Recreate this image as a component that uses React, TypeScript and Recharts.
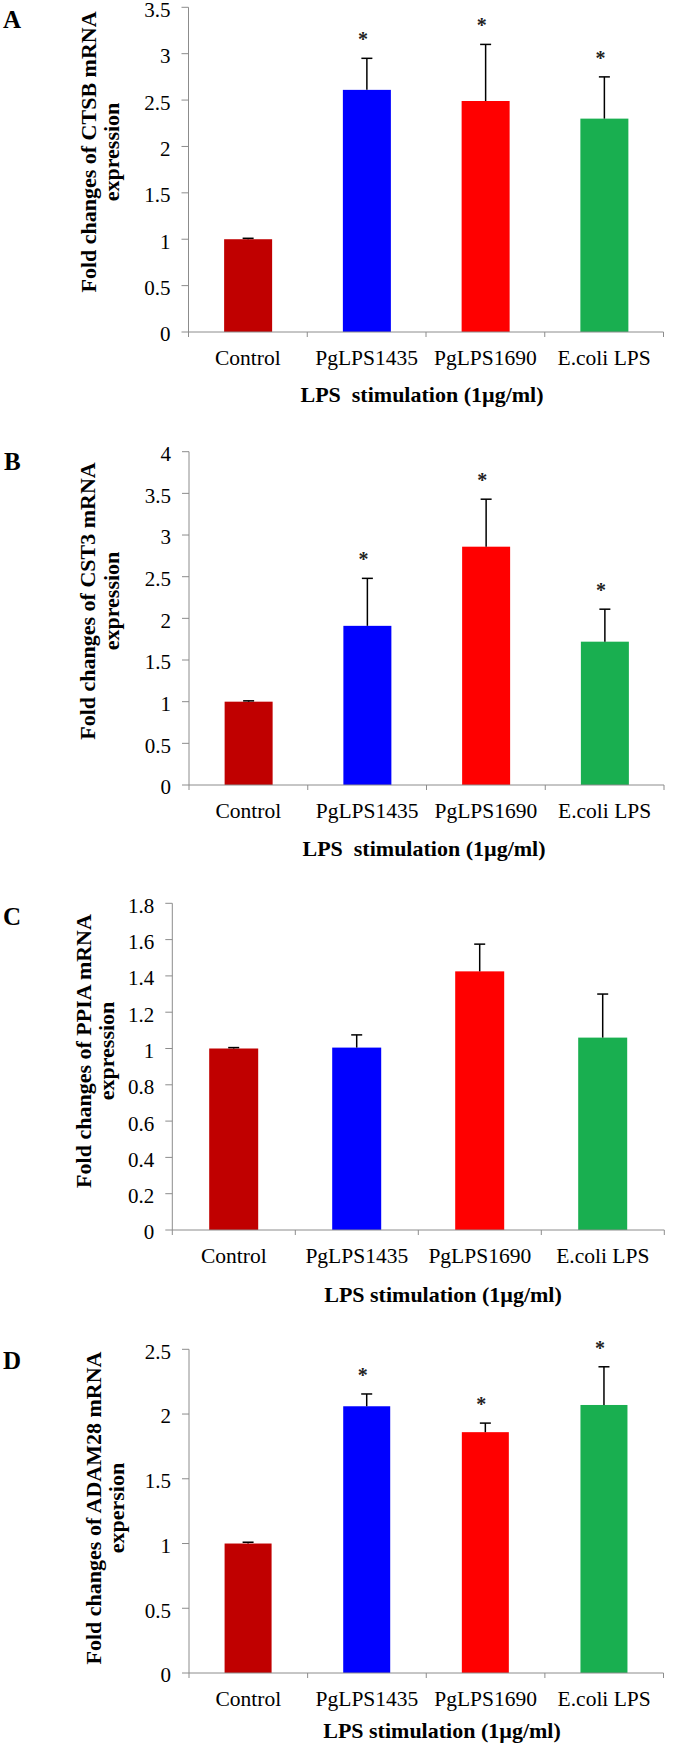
import { BarChart, Bar, XAxis, YAxis, Cell } from 'recharts'

const categories = ['Control', 'PgLPS1435', 'PgLPS1690', 'E.coli LPS']
const barColors = ['#C00000', '#0000FF', '#FF0000', '#19AF50']

// A: CTSB
const ctsbMean = [1.0, 2.61, 2.49, 2.3]
const ctsbErr = [0.01, 0.34, 0.61, 0.45]
const ctsbSig = [false, true, true, true]
const ctsbTicks = [0, 0.5, 1, 1.5, 2, 2.5, 3, 3.5]

// B: CST3
const cst3Mean = [1.0, 1.91, 2.86, 1.72]
const cst3Err = [0.01, 0.57, 0.57, 0.39]
const cst3Sig = [false, true, true, true]
const cst3Ticks = [0, 0.5, 1, 1.5, 2, 2.5, 3, 3.5, 4]

// C: PPIA
const ppiaMean = [1.0, 1.005, 1.425, 1.06]
const ppiaErr = [0.005, 0.07, 0.15, 0.24]
const ppiaSig = [false, false, false, false]
const ppiaTicks = [0, 0.2, 0.4, 0.6, 0.8, 1, 1.2, 1.4, 1.6, 1.8]

// D: ADAM28
const adamMean = [1.0, 2.06, 1.86, 2.07]
const adamErr = [0.01, 0.095, 0.07, 0.295]
const adamSig = [false, true, true, true]
const adamTicks = [0, 0.5, 1, 1.5, 2, 2.5]

const SERIF = '"Liberation Serif", "Times New Roman", serif'
const AXIS = '#8c8c8c'

const panels = [
  { mean: ctsbMean, err: ctsbErr, sig: ctsbSig, ticks: ctsbTicks, top: 0, height: 440, plotTop: 7.3, plotBottom: 332, plotLeft: 188.5, plotRight: 663.5 },
  { mean: cst3Mean, err: cst3Err, sig: cst3Sig, ticks: cst3Ticks, top: 420, height: 440, plotTop: 451.7, plotBottom: 785, plotLeft: 189, plotRight: 664 },
  { mean: ppiaMean, err: ppiaErr, sig: ppiaSig, ticks: ppiaTicks, top: 860, height: 440, plotTop: 903.3, plotBottom: 1230, plotLeft: 172.3, plotRight: 664.3 },
  { mean: adamMean, err: adamErr, sig: adamSig, ticks: adamTicks, top: 1300, height: 446, plotTop: 1349.3, plotBottom: 1673, plotLeft: 189, plotRight: 663.5 },
]

const letters = [
  { text: 'A', x: 3, y: 28 },
  { text: 'B', x: 4, y: 470 },
  { text: 'C', x: 3, y: 925 },
  { text: 'D', x: 3, y: 1369 },
]

const yLabels = [
  { l1: 'Fold changes of CTSB mRNA', l2: 'expression', cy: 152, b1: 96, b2: 119 },
  { l1: 'Fold changes of CST3 mRNA', l2: 'expression', cy: 601, b1: 95, b2: 118.5 },
  { l1: 'Fold changes of PPIA mRNA', l2: 'expression', cy: 1051, b1: 91, b2: 114 },
  { l1: 'Fold changes of ADAM28 mRNA', l2: 'expersion', cy: 1508, b1: 101, b2: 124 },
]

const xTitles = [
  { text: 'LPS\u00A0 stimulation (1µg/ml)', x: 422, y: 401.5 },
  { text: 'LPS\u00A0 stimulation (1µg/ml)', x: 424, y: 856 },
  { text: 'LPS stimulation (1µg/ml)', x: 443, y: 1302 },
  { text: 'LPS stimulation (1µg/ml)', x: 442, y: 1738 },
]

function BarWithErr(props: any) {
  const { x, y, width, height, fill, payload } = props
  const perUnit = height / payload.mean
  const errTop = y - payload.err * perUnit
  const cx = x + width / 2
  return (
    <g>
      <rect x={x} y={y} width={width} height={height} fill={fill} />
      <line x1={cx} x2={cx} y1={y} y2={errTop} stroke="#000" strokeWidth={1.5} />
      <line x1={cx - 5.5} x2={cx + 5.5} y1={errTop} y2={errTop} stroke="#000" strokeWidth={1.5} />
      {payload.sig && (
        <text x={cx - 4} y={errTop - 12} textAnchor="middle" fontSize={20} fontWeight="bold" fontFamily={SERIF} fill="#222">
          *
        </text>
      )}
    </g>
  )
}

function XTick(props: any) {
  const { x, y, payload, bw } = props
  const left = x - bw / 2
  const isLast = payload.value === categories[categories.length - 1]
  return (
    <g>
      <line x1={left} x2={left} y1={y} y2={y + 5} stroke={AXIS} />
      {isLast && <line x1={x + bw / 2} x2={x + bw / 2} y1={y} y2={y + 5} stroke={AXIS} />}
      <text x={x} y={y + 33} textAnchor="middle" fontSize={21.5} fontFamily={SERIF} fill="#000">
        {payload.value}
      </text>
    </g>
  )
}

function YTick(props: any) {
  const { x, y, payload } = props
  return (
    <text x={x} y={y} dy="0.45em" textAnchor="end" fontSize={21} fontFamily={SERIF} fill="#000">
      {payload.value}
    </text>
  )
}

function Panel({ p }: { p: (typeof panels)[number] }) {
  const data = categories.map((name, i) => ({ name, mean: p.mean[i], err: p.err[i], sig: p.sig[i] }))
  const bw = (p.plotRight - p.plotLeft) / categories.length
  const xAxisHeight = 40
  return (
    <div style={{ position: 'absolute', left: 0, top: p.top }}>
      <BarChart
        width={675}
        height={p.height}
        data={data}
        barCategoryGap="30%"
        style={{ overflow: 'visible' }}
        margin={{
          top: p.plotTop - p.top,
          right: 675 - p.plotRight,
          bottom: p.top + p.height - p.plotBottom - xAxisHeight,
          left: 0,
        }}
      >
        <XAxis
          dataKey="name"
          height={xAxisHeight}
          interval={0}
          axisLine={{ stroke: AXIS }}
          tickLine={false}
          tickSize={0}
          tickMargin={0}
          tick={(t: any) => <XTick {...t} bw={bw} />}
        />
        <YAxis
          width={p.plotLeft}
          domain={[0, p.ticks[p.ticks.length - 1]]}
          ticks={p.ticks}
          interval={0}
          axisLine={{ stroke: AXIS }}
          tickLine={{ stroke: AXIS }}
          tickSize={7}
          tickMargin={11}
          tick={(t: any) => <YTick {...t} />}
        />
        <Bar dataKey="mean" isAnimationActive={false} shape={(s: any) => <BarWithErr {...s} />}>
          {data.map((d, i) => (
            <Cell key={d.name} fill={barColors[i]} />
          ))}
        </Bar>
      </BarChart>
    </div>
  )
}

export default function App() {
  return (
    <div style={{ position: 'absolute', left: 0, top: 0, width: 675, height: 1746, background: '#fff' }}>
      {panels.map((p, i) => (
        <Panel key={i} p={p} />
      ))}
      <svg
        width={675}
        height={1746}
        style={{ position: 'absolute', left: 0, top: 0, pointerEvents: 'none' }}
        fontFamily={SERIF}
      >
        {letters.map((l) => (
          <text key={l.text} x={l.x} y={l.y} fontSize={25} fontWeight="bold" fill="#000">
            {l.text}
          </text>
        ))}
        {yLabels.map((l, i) => (
          <g key={i} transform="rotate(-90)">
            <text x={-l.cy} y={l.b1} textAnchor="middle" fontSize={22} fontWeight="bold" fill="#000">
              {l.l1}
            </text>
            <text x={-l.cy} y={l.b2} textAnchor="middle" fontSize={22} fontWeight="bold" fill="#000">
              {l.l2}
            </text>
          </g>
        ))}
        {xTitles.map((t, i) => (
          <text key={i} x={t.x} y={t.y} textAnchor="middle" fontSize={22} fontWeight="bold" fill="#000">
            {t.text}
          </text>
        ))}
      </svg>
    </div>
  )
}
